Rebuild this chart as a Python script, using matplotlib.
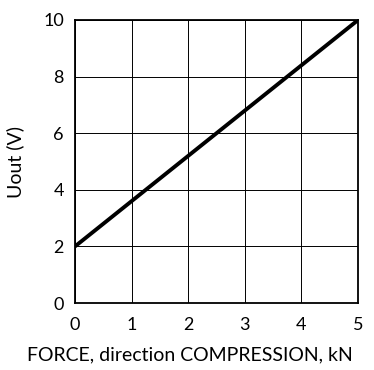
import matplotlib
matplotlib.use("Agg")
import matplotlib.pyplot as plt

# data
force_kn = [0, 5]
uout_v = [2, 10]
x_ticks = [0, 1, 2, 3, 4, 5]
y_ticks = [0, 2, 4, 6, 8, 10]

plt.rcParams['font.family'] = ['Lato', 'DejaVu Sans']

fig = plt.figure(figsize=(3.74, 3.70), dpi=100)
ax = fig.add_axes([0.2005, 0.181, 0.757, 0.765])

ax.plot(force_kn, uout_v, color='black', linewidth=2.8, solid_capstyle='butt', zorder=3)

ax.set_xlim(0, 5)
ax.set_ylim(0, 10)
ax.set_xticks(x_ticks)
ax.set_yticks(y_ticks)
ax.grid(True, color='black', linewidth=0.7)
ax.tick_params(length=0, labelsize=13)
ax.tick_params(axis='x', pad=10)
ax.tick_params(axis='y', pad=8)
for s in ax.spines.values():
    s.set_linewidth(1.3)

# x label sits left of the axes centre in the reference
fig.text(190 / 374, 1 - 355 / 370, "FORCE, direction COMPRESSION, kN",
         fontsize=14, ha='center', va='center')
ax.set_ylabel("Uout (V)", fontsize=14, labelpad=14)

fig.savefig("out.png", dpi=100)
